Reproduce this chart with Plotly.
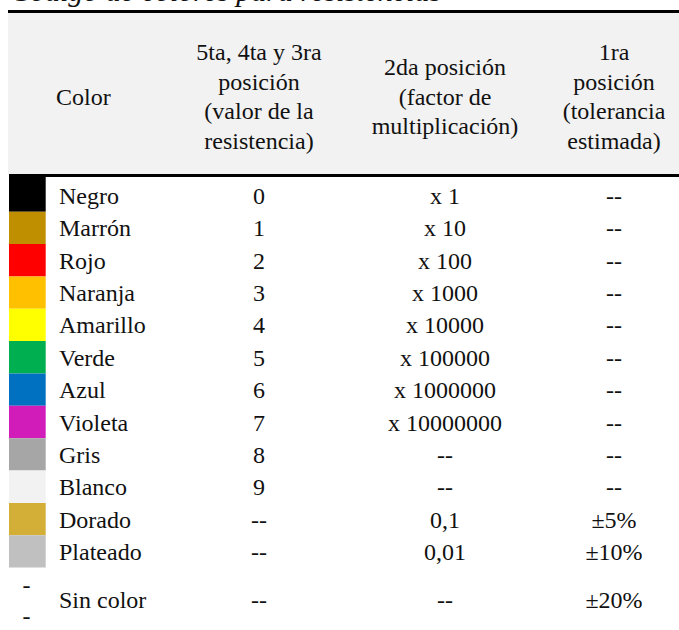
import plotly.graph_objects as go

# ---------------- data ----------------
title = "Código de colores para resistencias"
header_color = ["Color"]
header_value = ["5ta, 4ta y 3ra", "posición", "(valor de la", "resistencia)"]
header_mult = ["2da posición", "(factor de", "multiplicación)"]
header_tol = ["1ra", "posición", "(tolerancia", "estimada)"]

color_names = ["Negro", "Marrón", "Rojo", "Naranja", "Amarillo", "Verde", "Azul",
               "Violeta", "Gris", "Blanco", "Dorado", "Plateado", "Sin color"]
swatch_colors = ["#000000", "#bf8f00", "#ff0000", "#ffc000", "#ffff00", "#00b050",
                 "#0070c0", "#d21cba", "#a6a6a6", "#f2f2f2", "#d4af37", "#c0c0c0", None]
values = ["0", "1", "2", "3", "4", "5", "6", "7", "8", "9", "--", "--", "--"]
multipliers = ["x 1", "x 10", "x 100", "x 1000", "x 10000", "x 100000", "x 1000000",
               "x 10000000", "--", "--", "0,1", "0,01", "--"]
tolerances = ["--", "--", "--", "--", "--", "--", "--", "--", "--", "--",
              "±5%", "±10%", "±20%"]

# ---------------- layout constants ----------------
W, H = 679, 630
FONT = "Liberation Serif"
FS = 24
TXT = "#111111"
ROW_TOP = 179.3
ROW_H = 32.36
row_heights = [ROW_H] * 12 + [2 * ROW_H]
HEAD_CY = 96.0
HEAD_LS = 29.5
DY = 2.5  # text baseline correction
X_NAME = 59
X_VAL = 259
X_MULT = 445
X_TOL = 614

row_tops = []
t = ROW_TOP
for h in row_heights:
    row_tops.append(t)
    t += h
row_centers = [rt + h / 2 for rt, h in zip(row_tops, row_heights)]

fig = go.Figure()

shapes = []
# header background
shapes.append(dict(type="rect", xref="x", yref="y", x0=8, x1=W, y0=12.5, y1=174.5,
                   fillcolor="#f2f2f2", line_width=0, layer="below"))
# swatches
for i, c in enumerate(swatch_colors):
    if c is None:
        continue
    y0 = row_tops[i] if i > 0 else 175.5
    shapes.append(dict(type="rect", xref="x", yref="y", x0=9, x1=45.7,
                       y0=y0, y1=row_tops[i] + row_heights[i],
                       fillcolor=c, line_width=0, layer="below"))
# rules
shapes.append(dict(type="line", xref="x", yref="y", x0=8, x1=W, y0=11.5, y1=11.5,
                   line=dict(color="#000000", width=3)))
shapes.append(dict(type="line", xref="x", yref="y", x0=9, x1=W, y0=175.5, y1=175.5,
                   line=dict(color="#000000", width=3)))


def header_trace(lines, x, pos="middle center"):
    n = len(lines)
    ys = [HEAD_CY + DY + (k - (n - 1) / 2) * HEAD_LS for k in range(n)]
    return go.Scatter(x=[x] * n, y=ys, text=lines, mode="text", textposition=pos,
                      textfont=dict(family=FONT, size=FS, color=TXT),
                      hoverinfo="skip", showlegend=False)


fig.add_trace(header_trace(header_color, X_NAME - 3, "middle right"))
fig.add_trace(header_trace(header_value, X_VAL))
fig.add_trace(header_trace(header_mult, X_MULT))
fig.add_trace(header_trace(header_tol, X_TOL))


def body_trace(texts, x, pos="middle center"):
    return go.Scatter(x=[x] * len(texts), y=[c + DY for c in row_centers], text=texts,
                      mode="text", textposition=pos,
                      textfont=dict(family=FONT, size=FS, color=TXT),
                      hoverinfo="skip", showlegend=False)


fig.add_trace(body_trace(color_names, X_NAME, "middle right"))
fig.add_trace(body_trace(values, X_VAL))
fig.add_trace(body_trace(multipliers, X_MULT))
fig.add_trace(body_trace(tolerances, X_TOL))

# wrapped "--" in the empty swatch cell of the last row
last_c = row_centers[-1]
fig.add_trace(go.Scatter(x=[26.5, 26.5], y=[last_c - 15.7 + DY, last_c + 15.7 + DY],
                         text=["-", "-"], mode="text", textposition="middle center",
                         textfont=dict(family=FONT, size=FS, color=TXT),
                         hoverinfo="skip", showlegend=False))

# title, mostly above the visible page (only its lower part shows)
fig.add_annotation(x=8 / W, y=1, xref="paper", yref="paper", text="<i>" + title + "</i>",
                   showarrow=False, xanchor="left", yanchor="middle", yshift=9.8,
                   font=dict(family=FONT, size=30, color=TXT))

fig.update_layout(
    width=W, height=H, margin=dict(l=0, r=0, t=0, b=0),
    paper_bgcolor="white", plot_bgcolor="white",
    xaxis=dict(range=[0, W], visible=False, fixedrange=True),
    yaxis=dict(range=[H, 0], visible=False, fixedrange=True),
    shapes=shapes, showlegend=False,
)

fig.write_html("out.html", config={"displayModeBar": False},
               post_script="document.body.style.margin='0';document.body.style.overflow='hidden';")
